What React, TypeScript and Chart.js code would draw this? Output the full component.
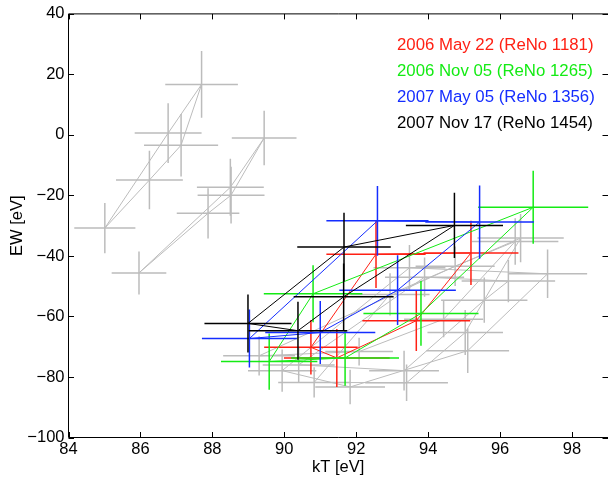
import React, { useEffect, useRef } from "react";
import { Chart, registerables } from "chart.js";

Chart.register(...registerables);

// ---- axes ----
const xTicks = [84, 86, 88, 90, 92, 94, 96, 98];
const yTicks = [40, 20, 0, -20, -40, -60, -80, -100];
const xLabel = "kT [eV]";
const yLabel = "EW [eV]";

// ---- coloured observations (loops in phase order) ----
const legendLabels = [
  "2006 May 22 (ReNo 1181)",
  "2006 Nov 05 (ReNo 1265)",
  "2007 May 05 (ReNo 1356)",
  "2007 Nov 17 (ReNo 1454)",
];

const redKT = [90.74, 91.46, 93.67, 95.19, 92.55];
const redKTErr = [1.3, 1.47, 1.5, 1.32, 1.38];
const redEW = [-70.2, -73.7, -61.4, -39.0, -39.4];
const redEWErr = [9.0, 9.6, 10.0, 10.6, 11.2];

const greenKT = [89.58, 91.69, 93.8, 96.92, 90.8];
const greenKTErr = [1.34, 1.5, 1.6, 1.53, 1.37];
const greenEW = [-74.9, -73.7, -59.0, -23.9, -52.5];
const greenEWErr = [9.3, 9.2, 10.7, 12.1, 9.4];

const blueKT = [89.03, 91.0, 93.15, 95.43, 92.59];
const blueKTErr = [1.32, 1.53, 1.62, 1.51, 1.42];
const blueEW = [-67.3, -65.3, -51.3, -28.8, -28.4];
const blueEWErr = [9.6, 10.4, 11.5, 12.1, 11.5];

const blackKT = [88.99, 90.38, 91.65, 94.73, 91.66];
const blackKTErr = [1.21, 1.37, 1.39, 1.35, 1.3];
const blackEW = [-62.3, -64.7, -53.5, -29.9, -37.05];
const blackEWErr = [9.6, 9.6, 11.0, 10.8, 11.3];

// ---- grey (other observations) ----
const grey1KT = [85.01, 86.25, 87.13, 87.7, 86.77];
const grey1KTErr = [0.85, 0.93, 1.03, 1.01, 0.93];
const grey1EW = [-30.8, -14.9, -3.4, 16.7, 0.6];
const grey1EWErr = [8.3, 9.7, 10.3, 11.0, 9.85];

const grey2KT = [85.96, 87.88, 88.52, 89.44, 88.5];
const grey2KTErr = [0.76, 0.87, 0.93, 0.9, 0.93];
const grey2EW = [-45.6, -25.9, -19.9, -1.0, -17.3];
const grey2EWErr = [7.1, 8.3, 9.4, 9.0, 9.4];

const grey3KT = [89.94, 91.83, 95.1, 97.32, 93.48];
const grey3KTErr = [0.95, 0.97, 1.15, 1.1, 1.0];
const grey3EW = [-77.9, -83.3, -71.3, -45.9, -43.9];
const grey3EWErr = [7.0, 5.7, 7.4, 8.0, 7.5];

const grey4KT = [90.83, 93.4, 95.03, 96.57, 92.94];
const grey4KTErr = [1.0, 1.15, 1.05, 1.2, 1.1];
const grey4EW = [-81.8, -81.9, -65.3, -34.1, -52.7];
const grey4EWErr = [5.0, 6.0, 7.4, 8.0, 7.0];

const grey5KT = [89.3, 92.08, 94.43, 96.42, 94.75];
const grey5KTErr = [1.0, 0.94, 1.1, 1.2, 1.1];
const grey5EW = [-73.0, -71.6, -60.9, -35.2, -43.4];
const grey5EWErr = [6.5, 4.6, 6.0, 7.7, 6.5];

const grey6KT = [90.4, 93.33, 95.56, 96.23, 93.9];
const grey6KTErr = [1.0, 0.97, 1.2, 1.3, 1.1];
const grey6EW = [-76.0, -77.9, -54.6, -48.3, -47.0];
const grey6EWErr = [6.0, 6.6, 7.5, 7.0, 6.5];

const RED = "rgb(255,32,20)";
const GREEN = "rgb(20,235,20)";
const BLUE = "rgb(20,45,255)";
const BLACK = "rgb(0,0,0)";
const GREY = "rgb(188,188,188)";
const FONT = "'Liberation Sans', Arial, Helvetica, sans-serif";

function loop(kt: number[], kte: number[], ew: number[], ewe: number[]) {
  const pts = kt.map((x, i) => ({ x, y: ew[i], xErr: kte[i], yErr: ewe[i] }));
  pts.push({ x: kt[0], y: ew[0], xErr: 0, yErr: 0 });
  return pts;
}

function ds(label: string, data: any[], color: string, order: number) {
  return {
    label,
    data,
    borderColor: color,
    backgroundColor: color,
    showLine: true,
    borderWidth: 1,
    pointRadius: 0,
    pointHoverRadius: 0,
    tension: 0,
    order,
  };
}

const errorBars = {
  id: "errorBars",
  afterDatasetDraw(chart: any, args: any) {
    const d = chart.data.datasets[args.index];
    const xs = chart.scales.x;
    const ys = chart.scales.y;
    const ca = chart.chartArea;
    const ctx = chart.ctx;
    ctx.save();
    ctx.beginPath();
    ctx.rect(ca.left, ca.top, ca.right - ca.left, ca.bottom - ca.top);
    ctx.clip();
    ctx.strokeStyle = d.borderColor;
    ctx.lineWidth = 1.5;
    ctx.lineCap = "butt";
    for (const p of d.data) {
      if (!p.xErr && !p.yErr) continue;
      const px = xs.getPixelForValue(p.x);
      const py = ys.getPixelForValue(p.y);
      ctx.beginPath();
      ctx.moveTo(xs.getPixelForValue(p.x - p.xErr), py);
      ctx.lineTo(xs.getPixelForValue(p.x + p.xErr), py);
      ctx.moveTo(px, ys.getPixelForValue(p.y - p.yErr));
      ctx.lineTo(px, ys.getPixelForValue(p.y + p.yErr));
      ctx.stroke();
    }
    ctx.restore();
  },
};

const frame = {
  id: "frame",
  afterDraw(chart: any) {
    const ctx = chart.ctx;
    const ca = chart.chartArea;
    const xs = chart.scales.x;
    const ys = chart.scales.y;
    const tl = 5.5;
    ctx.save();
    ctx.strokeStyle = "#000";
    ctx.lineWidth = 1;
    ctx.beginPath();
    ctx.moveTo(ca.left, ca.top);
    ctx.lineTo(ca.right + 2, ca.top);
    ctx.moveTo(ca.left, ca.top);
    ctx.lineTo(ca.left, ca.bottom);
    ctx.lineTo(ca.right + 2, ca.bottom);
    for (const v of xTicks) {
      const px = Math.round(xs.getPixelForValue(v)) + 0.5;
      ctx.moveTo(px, ca.bottom);
      ctx.lineTo(px, ca.bottom - tl);
      ctx.moveTo(px, ca.top);
      ctx.lineTo(px, ca.top + tl);
    }
    for (const v of yTicks) {
      const py = Math.round(ys.getPixelForValue(v)) + 0.5;
      ctx.moveTo(ca.left, py);
      ctx.lineTo(ca.left + tl, py);
      ctx.moveTo(ca.right, py);
      ctx.lineTo(ca.right - tl, py);
    }
    ctx.stroke();

    // legend text
    const colors = [RED, GREEN, BLUE, BLACK];
    ctx.font = `16.8px ${FONT}`;
    ctx.textAlign = "left";
    ctx.textBaseline = "alphabetic";
    legendLabels.forEach((t, i) => {
      ctx.fillStyle = colors[i];
      ctx.fillText(t, 397, 50 + i * 26);
    });
    ctx.restore();
  },
};

export default function App() {
  const ref = useRef<HTMLCanvasElement | null>(null);
  useEffect(() => {
    if (!ref.current) return;
    const fmt = (v: number) => (v < 0 ? "\u2212" + Math.abs(v) : String(v));
    const chart = new Chart(ref.current, {
      type: "scatter",
      data: {
        datasets: [
          ds("grey1", loop(grey1KT, grey1KTErr, grey1EW, grey1EWErr), GREY, 10),
          ds("grey2", loop(grey2KT, grey2KTErr, grey2EW, grey2EWErr), GREY, 10),
          ds("grey3", loop(grey3KT, grey3KTErr, grey3EW, grey3EWErr), GREY, 10),
          ds("grey4", loop(grey4KT, grey4KTErr, grey4EW, grey4EWErr), GREY, 10),
          ds("grey5", loop(grey5KT, grey5KTErr, grey5EW, grey5EWErr), GREY, 10),
          ds("grey6", loop(grey6KT, grey6KTErr, grey6EW, grey6EWErr), GREY, 10),
          ds(legendLabels[0], loop(redKT, redKTErr, redEW, redEWErr), RED, 4),
          ds(legendLabels[1], loop(greenKT, greenKTErr, greenEW, greenEWErr), GREEN, 3),
          ds(legendLabels[2], loop(blueKT, blueKTErr, blueEW, blueEWErr), BLUE, 2),
          ds(legendLabels[3], loop(blackKT, blackKTErr, blackEW, blackEWErr), BLACK, 1),
        ],
      },
      options: {
        animation: false,
        responsive: false,
        maintainAspectRatio: false,
        events: [],
        layout: { padding: { top: 11, right: 0, left: 0, bottom: 0 } },
        plugins: { legend: { display: false }, tooltip: { enabled: false } },
        scales: {
          x: {
            type: "linear",
            min: 84,
            max: 99,
            afterBuildTicks: (s: any) => {
              s.ticks = xTicks.map((v) => ({ value: v }));
            },
            afterFit: (s: any) => {
              s.height = 45.5;
            },
            grid: { display: false, drawTicks: false },
            border: { display: false },
            ticks: {
              padding: 2,
              maxRotation: 0,
              autoSkip: false,
              color: "#000",
              font: { family: FONT, size: 16.5 },
              callback: (v: any) => fmt(Number(v)),
            },
            title: {
              display: true,
              text: xLabel,
              color: "#000",
              font: { family: FONT, size: 16.5 },
              padding: { top: 0, bottom: 6 },
            },
          },
          y: {
            type: "linear",
            min: -100,
            max: 40,
            afterBuildTicks: (s: any) => {
              s.ticks = yTicks.map((v) => ({ value: v }));
            },
            afterFit: (s: any) => {
              s.width = 68.5;
            },
            grid: { display: false, drawTicks: false },
            border: { display: false },
            ticks: {
              padding: 4,
              autoSkip: false,
              color: "#000",
              font: { family: FONT, size: 16.5 },
              callback: (v: any) => fmt(Number(v)),
            },
            title: {
              display: true,
              text: yLabel,
              color: "#000",
              font: { family: FONT, size: 16.5 },
              padding: { top: 8, bottom: 0 },
            },
          },
        },
      },
      plugins: [errorBars, frame],
    } as any);
    return () => chart.destroy();
  }, []);
  return (
    <div style={{ position: "absolute", left: 0, top: 0, width: 608, height: 483, background: "#fff" }}>
      <canvas ref={ref} width={608} height={483} style={{ display: "block" }} />
    </div>
  );
}
